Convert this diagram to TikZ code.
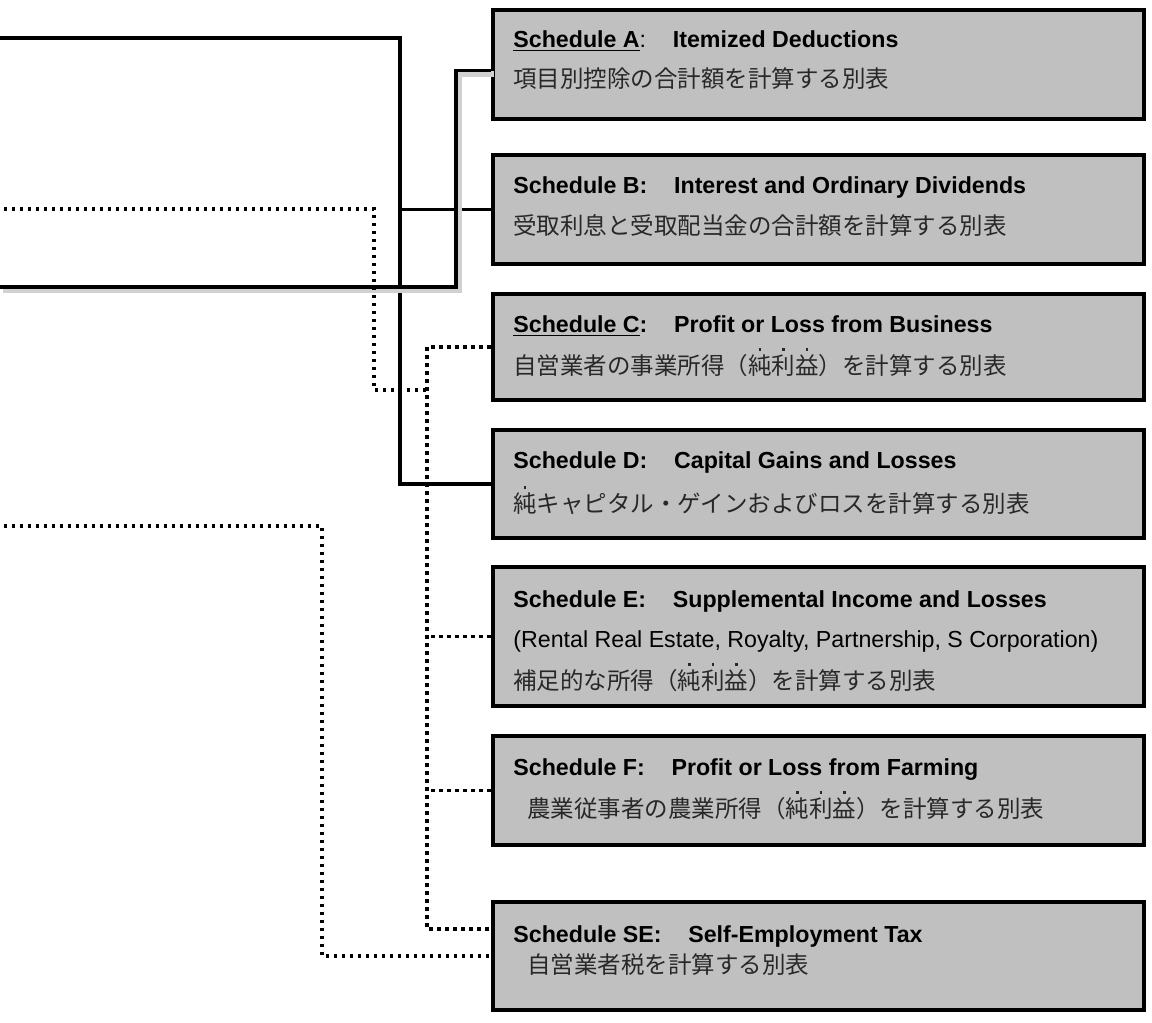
\documentclass[tikz,border=0pt]{standalone}
\usepackage{fontspec}
\setmainfont{Liberation Sans}
\newfontfamily\jp{Noto Sans CJK JP}
\usetikzlibrary{calc}

\definecolor{boxgray}{RGB}{192,192,192}
\definecolor{jpgray}{RGB}{40,40,40}

% emphasis dot over one kanji
\newcommand\bou[1]{\makebox[0pt][l]{\makebox[1em]{\raisebox{0.98em}{\rule{1.3pt}{1.3pt}}}}#1}
\newcommand\hd{\fontsize{11.6}{14}\selectfont\bfseries}
\newcommand\jt{\jp\fontsize{11.75}{14}\selectfont\color{jpgray}}
\newcommand\gap{\hspace{1.15em}}

\tikzset{
  sched/.style={draw, line width=2.2pt, fill=boxgray, minimum width=325.5pt, inner sep=0pt},
  txt/.style={anchor=base west, inner sep=0pt},
  solidlink/.style={line width=1.6pt},
  shadowlink/.style={line width=1.6pt,
    preaction={draw=black!18, line width=3pt, transform canvas={shift={(1.5pt,-1.5pt)}}}},
  dotlink/.style={line width=1.8pt, dash pattern=on 1.7pt off 2.3pt},
}

\begin{document}
\begin{tikzpicture}[x=0.5pt,y=-0.5pt]
\useasboundingbox (0,0) rectangle (1152,1023);

% schedules
\node[sched, minimum height=54.5pt] (A) at (818.5,64.5) {};
\node[sched, minimum height=54.5pt] (B) at (818.5,209.5) {};
\node[sched, minimum height=53pt] (C) at (818.5,347) {};
\node[sched, minimum height=54pt] (D) at (818.5,484) {};
\node[sched, minimum height=69.5pt] (E) at (818.5,636.5) {};
\node[sched, minimum height=54.5pt] (F) at (818.5,790.5) {};
\node[sched, minimum height=54pt] (SE) at (818.5,956) {};

\node[txt] (tA1) at (513,47) {\hd\underline{Schedule A}\mdseries:\gap\bfseries Itemized Deductions};
\node[txt] (tA2) at (513,87) {\jt 項目別控除の合計額を計算する別表};

\node[txt] (tB1) at (513,193) {\hd Schedule B:\gap Interest and Ordinary Dividends};
\node[txt] (tB2) at (513,234) {\jt 受取利息と受取配当金の合計額を計算する別表};

\node[txt] (tC1) at (513,332) {\hd\underline{Schedule C}:\gap Profit or Loss from Business};
\node[txt] (tC2) at (513,374) {\jt 自営業者の事業所得（\bou{純}\bou{利}\bou{益}）を計算する別表};

\node[txt] (tD1) at (513,468) {\hd Schedule D:\gap Capital Gains and Losses};
\node[txt] (tD2) at (513,512) {\jt \bou{純}キャピタル・ゲインおよびロスを計算する別表};

\node[txt] (tE1) at (513,607) {\hd Schedule E:\gap Supplemental Income and Losses};
\node[txt] (tE2) at (513,647) {\fontsize{11.6}{14}\selectfont (Rental Real Estate, Royalty, Partnership, S Corporation)};
\node[txt] (tE3) at (513,689) {\jt 補足的な所得（\bou{純}\bou{利}\bou{益}）を計算する別表};

\node[txt] (tF1) at (513,775) {\hd Schedule F:\gap Profit or Loss from Farming};
\node[txt] (tF2) at (527,817) {\jt 農業従事者の農業所得（\bou{純}\bou{利}\bou{益}）を計算する別表};

\node[txt] (tS1) at (513,942) {\hd Schedule SE:\gap Self-Employment Tax};
\node[txt] (tS2) at (527,973) {\jt 自営業者税を計算する別表};

% free ends and buses
\coordinate (in1) at (0,38);
\coordinate (in2) at (4,209);
\coordinate (in3) at (0,287);
\coordinate (in4) at (4,526);
\coordinate (bus1) at (400,0);
\coordinate (bus2) at (456,0);
\coordinate (bus4) at (427,0);
\coordinate (bus5) at (322,0);
\coordinate (jn) at (374,390);
\coordinate (aA) at ($(A.west)+(0,6)$);
\coordinate (seTop) at ($(SE.west)+(0,-27)$);

% solid lines
\draw[solidlink] (in1) -| (bus1 |- D.west) -- (D.west);
\draw[solidlink] (B.west) -- (B.west -| bus1);
\draw[shadowlink] (in3) -| (bus2 |- aA) -- (aA);

% dotted lines
\draw[dotlink] (in2) -| (jn) -- (jn -| bus4);
\draw[dotlink] (C.west) -| (bus4 |- seTop) -- (seTop);
\draw[dotlink] (E.west) -- (E.west -| bus4);
\draw[dotlink] (F.west) -- (F.west -| bus4);
\draw[dotlink] (in4) -| (bus5 |- SE.west) -- (SE.west);
\end{tikzpicture}
\end{document}
